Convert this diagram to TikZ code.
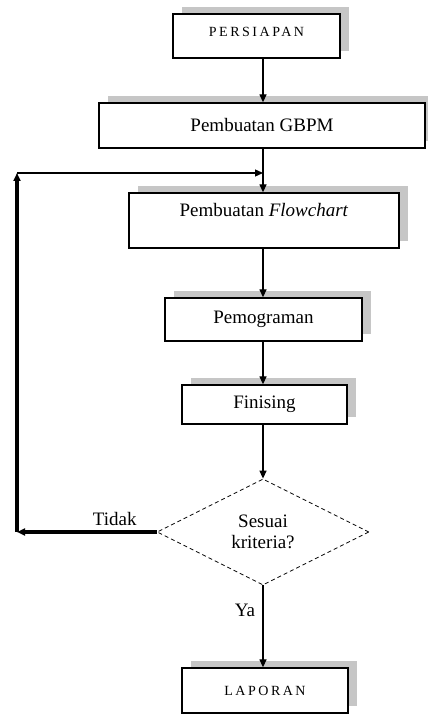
\documentclass[tikz,border=0pt]{standalone}
\usepackage{fontspec}
\setmainfont{Liberation Serif}
\newfontfamily\capsfont[LetterSpace=18]{Liberation Serif}
\usetikzlibrary{shadows,arrows.meta,shapes.geometric}

\begin{document}
\begin{tikzpicture}[x=1pt,y=1pt,line width=1.3pt,
  box/.style={draw,rectangle,inner sep=0pt,fill=white,
    font=\fontsize{19}{21}\selectfont,
    drop shadow={shadow xshift=9pt,shadow yshift=7pt,fill=gray!45,opacity=1}},
  capsbox/.style={box,font=\capsfont\fontsize{14}{16}\selectfont},
  decision/.style={draw,diamond,dashed,dash pattern=on 4pt off 3pt,line width=0.8pt,
    aspect=2,inner sep=0pt,align=center,font=\fontsize{19}{21}\selectfont},
  lbl/.style={font=\fontsize{19}{21}\selectfont},
  arr/.style={-{Triangle[length=8pt,width=7pt]}}]

\useasboundingbox (0,0) rectangle (428,715);

% Define coordinates
\coordinate (main)  at (263,0);    %main vertical line
\coordinate (loopb) at (17,183);   %bottom corner of loop
\coordinate (loopt) at (17,542);   %top corner of loop
\coordinate (join)  at (263,542);  %where the loop comes back in

% Boxes
\node[capsbox,minimum width=167,minimum height=44,text depth=9pt] (pers) at (256.5,679) {PERSIAPAN};
\node[box,minimum width=326,minimum height=45] (gbpm) at (262,589.5) {Pembuatan GBPM};
\node[box,minimum width=270,minimum height=55,text height=14pt,text depth=21pt] (flow) at (264,494.5) {Pembuatan \textit{Flowchart}};
\node[box,minimum width=197,minimum height=43] (prog) at (263.5,395.5) {Pemograman};
\node[box,minimum width=165,minimum height=39] (fin) at (264.5,310.5) {Finising};
\node[decision,minimum width=212,minimum height=106] (dec) at (263,183) {Sesuai\\kriteria?};
\node[capsbox,minimum width=166,minimum height=45] (lap) at (265,24.5) {LAPORAN};

% Main flow
\draw[arr] (pers.south -| main) -- (gbpm.north -| main);
\draw[arr] (gbpm.south -| main) -- (flow.north -| main);
\draw[arr] (flow.south -| main) -- (prog.north -| main);
\draw[arr] (prog.south -| main) -- (fin.north -| main);
\draw[arr] (fin.south -| main) -- (dec.north);
\draw[arr] (dec.south) -- (lap.north -| main) node[lbl,pos=0.3,left=4pt] (ya) {Ya};

% Loop back
\draw[arr,line width=3.5pt] (dec.west) -- (loopb) node[lbl,pos=0.3,above=1pt] (tidak) {Tidak};
\draw[arr,line width=3.5pt] (loopb) -- (loopt);
\draw[arr] (loopt) -- (join);

\end{tikzpicture}
\end{document}
